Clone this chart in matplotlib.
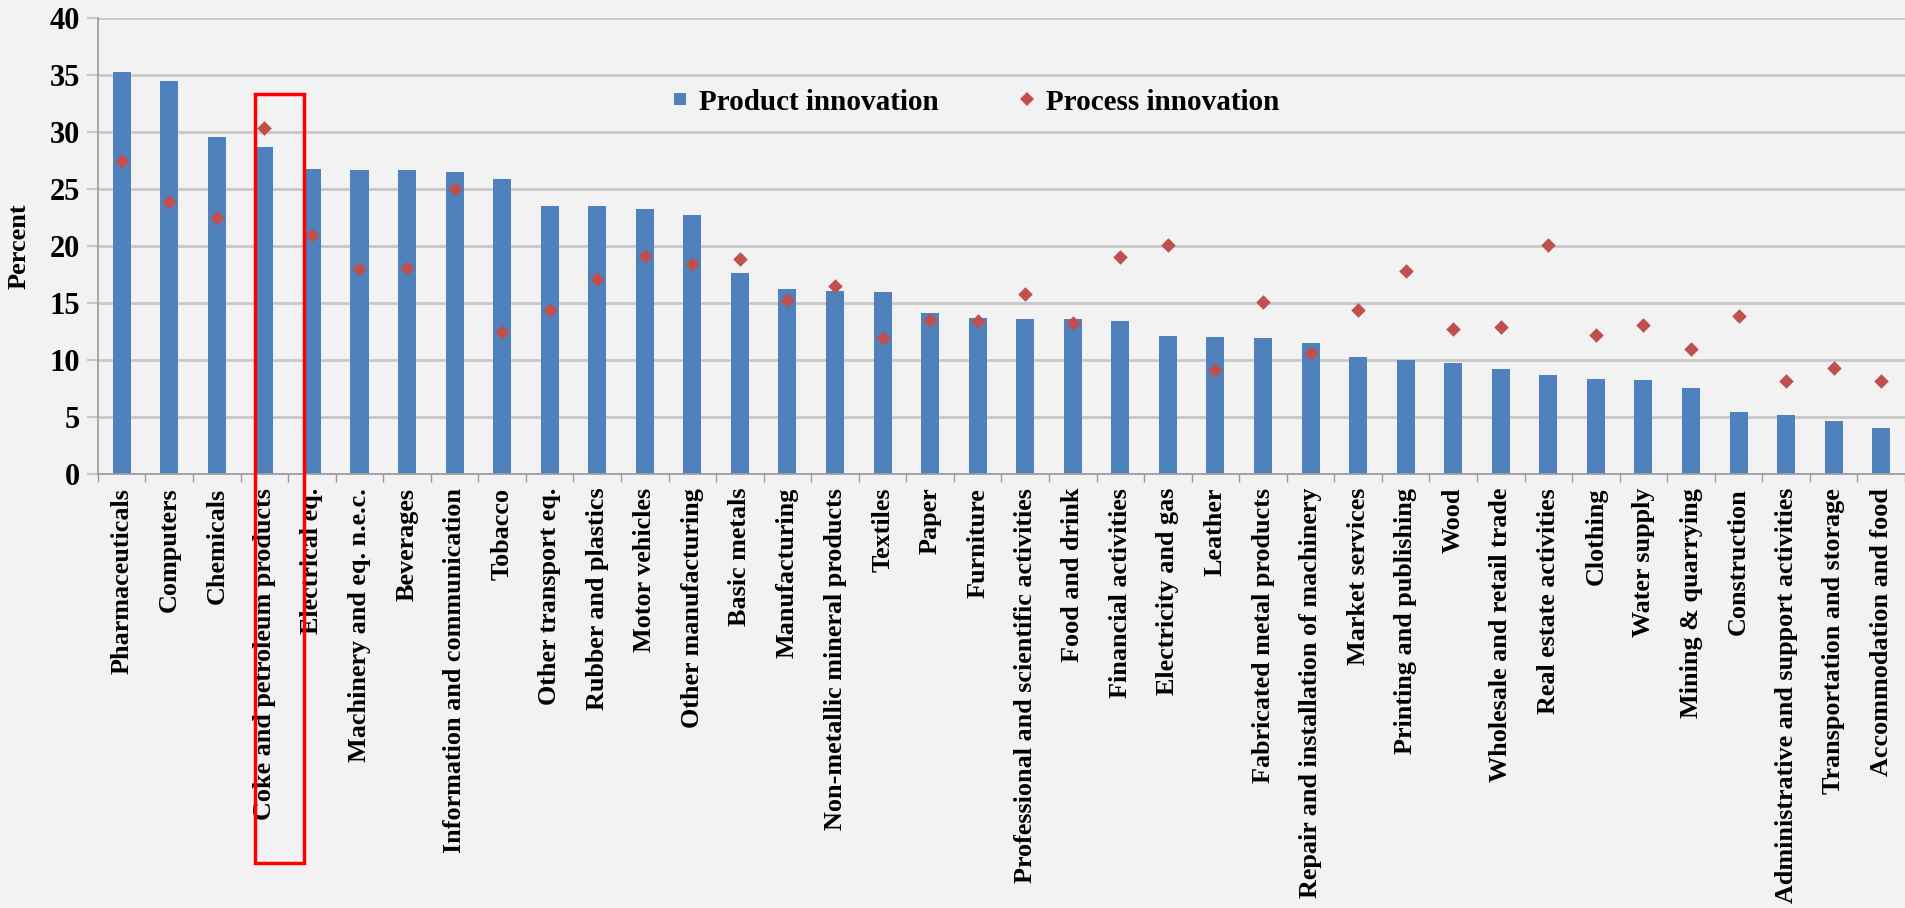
import matplotlib
matplotlib.use("Agg")
import matplotlib.pyplot as plt
import matplotlib.transforms as mtransforms
from matplotlib.patches import Rectangle
from matplotlib.lines import Line2D
from matplotlib.ticker import FixedLocator

categories = [
    "Pharmaceuticals", "Computers", "Chemicals", "Coke and petroleum products",
    "Electrical eq.", "Machinery and eq. n.e.c.", "Beverages",
    "Information and communication", "Tobacco", "Other transport eq.",
    "Rubber and plastics", "Motor vehicles", "Other manufacturing",
    "Basic metals", "Manufacturing", "Non-metallic mineral products",
    "Textiles", "Paper", "Furniture", "Professional and scientific activities",
    "Food and drink", "Financial activities", "Electricity and gas", "Leather",
    "Fabricated metal products", "Repair and installation of machinery",
    "Market services", "Printing and publishing", "Wood",
    "Wholesale and retail trade", "Real estate activities", "Clothing",
    "Water supply", "Mining & quarrying", "Construction",
    "Administrative and support activities", "Transportation and storage",
    "Accommodation and food",
]
product_innovation = [
    35.3, 34.5, 29.6, 28.65, 26.8, 26.7, 26.7, 26.5, 25.9, 23.5, 23.5,
    23.25, 22.75, 17.65, 16.25, 16.1, 16.0, 14.1, 13.7, 13.6, 13.6, 13.4,
    12.1, 12.0, 11.9, 11.5, 10.3, 10.0, 9.75, 9.25, 8.65, 8.35, 8.27, 7.57,
    5.4, 5.2, 4.63, 4.05,
]
process_innovation = [
    27.5, 23.9, 22.5, 30.4, 21.0, 18.0, 18.1, 25.0, 12.5, 14.4, 17.1,
    19.1, 18.4, 18.9, 15.3, 16.5, 11.9, 13.5, 13.4, 15.8, 13.25, 19.0,
    20.1, 9.15, 15.1, 10.6, 14.4, 17.8, 12.7, 12.9, 20.05, 12.2, 13.05,
    10.94, 13.9, 8.15, 9.3, 8.2,
]
y_ticks = [0, 5, 10, 15, 20, 25, 30, 35, 40]
series_names = ["Product innovation", "Process innovation"]
highlight = "Coke and petroleum products"

plt.rcParams["font.family"] = ["Liberation Serif", "DejaVu Serif"]
plt.rcParams["font.weight"] = "bold"

BG = "#F2F2F2"
BLUE = "#4F81BD"
RED = "#C0504D"
GRID = "#C8C8C8"
AXC = "#9A9A9A"

fig = plt.figure(figsize=(19.05, 9.08), dpi=100, facecolor=BG)
ax = fig.add_axes([0.0514, 0.478, 0.9486, 0.502])
ax.set_facecolor(BG)

x = list(range(len(categories)))
ax.bar(x, product_innovation, width=0.38, color=BLUE, zorder=2)
ax.scatter(x, process_innovation, marker="D", s=55, color=RED, zorder=3,
           linewidths=0)

ax.set_xlim(-0.5, len(categories) - 0.5)
ax.set_ylim(0, 40)
ax.set_yticks(y_ticks)
ax.yaxis.grid(True, color=GRID, linewidth=2.0, zorder=0)
ax.set_axisbelow(True)

ax.set_xticks(x)
ax.set_xticklabels(categories, rotation=90, fontsize=18.8, fontweight="bold")
ax.tick_params(axis="x", which="major", length=0, pad=10)
ax.xaxis.set_minor_locator(FixedLocator([i - 0.5 for i in range(len(categories) + 1)]))
ax.tick_params(axis="x", which="minor", length=6, width=1, color=AXC,
               direction="out")
ax.tick_params(axis="y", length=8, width=1.5, color=GRID, pad=5,
               labelsize=22)
for lbl in ax.get_yticklabels():
    lbl.set_fontweight("bold")

for side in ["top", "right"]:
    ax.spines[side].set_visible(False)
for side in ["left", "bottom"]:
    ax.spines[side].set_color(AXC)
    ax.spines[side].set_linewidth(1.2)

ax.set_ylabel("Percent", fontsize=19, fontweight="bold")
ax.yaxis.set_label_coords(-0.037, 0.5)

handles = [
    Line2D([], [], linestyle="none", marker="s", markersize=9,
           markerfacecolor=BLUE, markeredgewidth=0),
    Line2D([], [], linestyle="none", marker="D", markersize=7,
           markerfacecolor=RED, markeredgewidth=0),
]
ax.legend(handles, series_names, loc="center", bbox_to_anchor=(0.4855, 0.816),
          ncol=2, frameon=False, handlelength=0.6, handletextpad=0.35,
          columnspacing=2.7, prop={"weight": "bold", "size": 21})

# red highlight box around the highlighted category label
hi = categories.index(highlight)
trans = mtransforms.blended_transform_factory(ax.transData, fig.transFigure)
rect = Rectangle((hi - 0.2, 0.050), 1.03, 0.846, transform=trans,
                 fill=False, edgecolor="#FF0000", linewidth=2.5, zorder=10,
                 clip_on=False)
fig.patches.append(rect)

fig.savefig("out.png", dpi=100, facecolor=BG)
